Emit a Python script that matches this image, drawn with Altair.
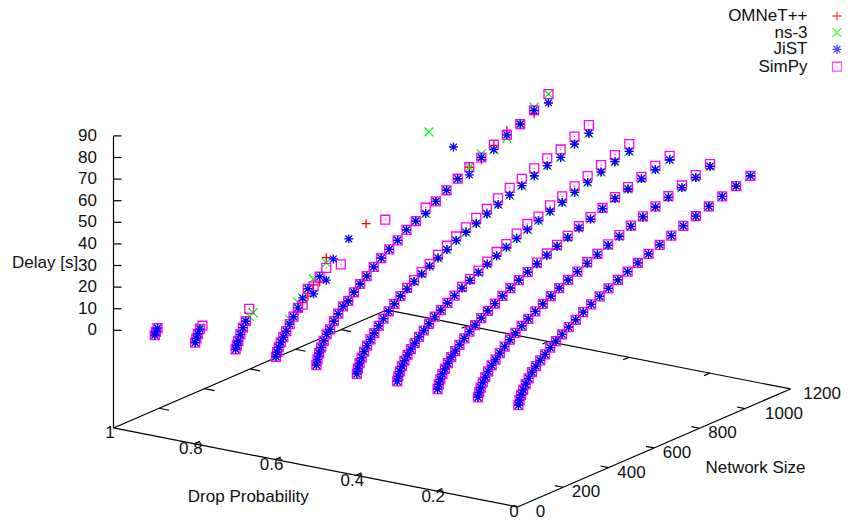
import altair as alt
import pandas as pd

# ---- axis values
DROP_TICKS = [0, 0.2, 0.4, 0.6, 0.8, 1]
DROP_LABELS = ["0", "0.2", "0.4", "0.6", "0.8", "1"]
SIZE_TICKS = [0, 200, 400, 600, 800, 1000, 1200]
SIZE_LABELS = ["0", "200", "400", "600", "800", "1000", "1200"]
DELAY_TICKS = [0, 10, 20, 30, 40, 50, 60, 70, 80, 90]
DELAY_FLOOR = -45.2

# ---- grid sizes: side length k of the network, k*k nodes
SIDES = list(range(2, 33))

# ---- JiST delay for sides 2,3,4,... per drop probability
JIST_00 = [1.7, 3.8, 5.9, 7.9, 10.0, 12.1, 14.3, 16.3, 18.1, 19.9, 22.0, 23.9, 25.8, 27.8, 29.8, 31.8, 33.8, 35.8, 37.8, 39.8, 41.7, 43.7, 45.7, 47.7, 49.6, 51.7, 53.7, 55.7, 57.6, 59.6, 61.5]
JIST_01 = [1.7, 3.8, 5.7, 7.7, 9.6, 11.7, 13.8, 15.7, 17.8, 19.9, 22.0, 24.0, 26.0, 28.0, 30.0, 32.0, 34.0, 36.0, 38.0, 40.0, 41.9, 43.9, 46.0, 48.0, 50.3, 52.2, 54.3, 56.2, 58.0, 59.9, 62.2]
JIST_02 = [1.8, 3.8, 5.8, 7.8, 9.8, 11.8, 13.9, 15.9, 18.0, 20.0, 22.1, 24.0, 26.0, 28.0, 30.0, 32.0, 34.0, 36.0, 38.0, 40.0, 42.0, 44.1, 46.0, 48.2, 50.0, 52.4, 54.6, 56.4, 58.5, 59.9, 61.6]
JIST_03 = [1.8, 3.9, 5.9, 7.9, 9.9, 12.0, 14.0, 16.0, 18.0, 20.0, 22.0, 24.2, 26.0, 28.0, 30.0, 32.0, 34.0, 36.0, 38.0, 40.0, 42.0, 44.0, 46.0, 48.0, 49.9, 51.6, 53.8, 55.8, 57.9, 59.9, 61.8]
JIST_04 = [1.6, 3.8, 6.0, 8.2, 10.4, 12.6, 14.8, 17.0, 19.4, 21.8, 24.2, 26.5, 28.9, 30.9, 32.9, 34.9, 36.9, 39.0, 41.1, 43.5, 45.3, 47.3, 49.6, 51.7, 53.7, 55.7, 57.8, 59.9, 61.0, 64.4, 66.5]
JIST_05 = [2.0, 4.4, 7.0, 9.2, 11.8, 14.2, 15.8, 18.8, 21.4, 23.8, 25.3, 28.2, 30.8, 33.1, 36.0, 38.5, 41.0, 43.5, 46.6, 48.8, 50.3, 53.9, 56.9, 60.0, 59.5, 65.1, 66.2, 70.5, 72.8, 76.3, 77.0]
JIST_06_SIDES = [2, 3, 4, 5, 6, 7, 8, 9, 10, 11, 12, 13, 14, 15, 16, 18, 28]
JIST_06 = [2.2, 4.1, 6.0, 7.9, 9.8, 12.0, 14.6, 17.3, 20.5, 24.1, 27.3, 23.8, 30.5, 27.6, 36.0, 42.2, 63.8]
JIST_07 = [2.0, 3.6, 5.3, 7.9, 10.6, 13.0]
JIST_08 = [1.4, 3.2, 4.9, 6.7]
JIST_09 = [1.2, 2.5, 3.9]
JIST_CURVES = {0.0: JIST_00, 0.1: JIST_01, 0.2: JIST_02, 0.3: JIST_03, 0.4: JIST_04, 0.5: JIST_05}

# ---- SimPy: extra delay compared with JiST, keyed by side
SIMPY_EXTRA = {
    0.1: {32: 1.0, 31: 1.1, 30: 1.0, 29: 0.5, 28: 0.3, 27: 0.3, 26: 0.3, 25: 0.5, 24: 0.5, 23: 0.3, 22: 0.5},
    0.2: {32: 1.8, 31: 1.7, 30: 0.8, 29: 0.9, 28: 0.6, 27: 0.3, 26: 0.9, 25: 0.8, 24: 0.8, 23: 0.6, 22: 0.8, 21: 0.5},
    0.3: {32: 3.4, 31: 3.1, 30: 3.2, 29: 2.9, 28: 2.8, 27: 2.8, 26: 2.8, 25: 1.8, 24: 2.6, 23: 2.3, 22: 1.5, 21: 1.8, 20: 1.2, 19: 0.8, 18: 0.6, 17: 0.5},
    0.4: {32: 3.8, 31: 3.5, 30: 3.7, 29: 3.4, 28: 3.4, 27: 3.2, 26: 3.4, 25: 2.9, 24: 2.3, 23: 2.6, 22: 2.3, 21: 1.8, 20: 1.8, 19: 1.4, 18: 1.0, 17: 0.8, 16: 0.6, 15: 0.4},
    0.5: {32: 4.0, 28: 2.3, 26: 3.5, 22: 2.7},
}
SIMPY_06_SIDES = [2, 3, 4, 5, 6, 7, 8, 9, 10, 11, 12, 13, 14, 15, 17, 22]
SIMPY_06 = [2.2, 4.1, 6.0, 7.9, 9.8, 12.0, 14.6, 17.3, 20.5, 21.0, 27.3, 27.3, 30.5, 33.3, 32.0, 43.8]
SIMPY_07 = [2.0, 3.6, 5.3, 7.9, 10.6, 13.0, 18.0]
SIMPY_08 = [1.4, 3.2, 4.9, 6.7, 7.8]
SIMPY_09 = [1.2, 2.5, 3.9]

# ---- OMNeT++ and ns-3: extra delay where they show apart from JiST
OMNET_EXTRA_05 = {31: -1.5, 29: 2.0, 28: 2.0, 27: -1.0, 26: 3.5}
NS3_EXTRA_05 = {32: 4.0, 31: 1.5, 29: -1.5, 27: 1.7, 26: 3.5}
OMNET_06_SIDES = [2, 3, 4, 5, 6, 7, 8, 9, 10, 11, 12, 13, 14, 15, 20]
OMNET_06 = [2.2, 4.1, 6.0, 7.9, 9.8, 12.0, 14.6, 17.3, 18.9, 22.0, 23.9, 28.0, 28.0, 38.0, 45.8]
NS3_06_SIDES = [2, 3, 4, 5, 6, 7, 8, 9, 10, 11, 12, 13, 15, 26]
NS3_06 = [2.2, 4.1, 6.0, 7.9, 9.8, 12.0, 16.8, 17.3, 23.1, 24.1, 27.3, 30.7, 35.6, 75.7]
NS3_07 = [2.0, 3.6, 5.3, 7.9, 10.6, 13.0, 14.6, 15.4]
NS3_08 = [1.4, 3.2, 4.9, 7.4]

SERIES_NAMES = ["OMNeT++", "ns-3", "JiST", "SimPy"]
SERIES_COLORS = ["#ff0000", "#00ff00", "#0000ff", "#ff00ff"]
SERIES_SHAPES = [
    "M-1,0L1,0M0,-1L0,1",
    "M-1,-1L1,1M-1,1L1,-1",
    "M-1,0L1,0M0,-1L0,1M-0.75,-0.75L0.75,0.75M-0.75,0.75L0.75,-0.75",
    "M-1,-1L1,-1L1,1L-1,1ZM-0.12,0L0.12,0",
]
LEGEND_Y = [16, 32.5, 49.3, 66.7]

FONT = "Liberation Sans"
FONT_SIZE = 17
TEXT_COLOR = "#111111"
MARK_SIZE = 80
MARK_STROKE = 1.3


def sx(p, n):
    return 517.5 - 404 * p + 273 * n / 1200


def sy(p, n, z):
    return 507 - 79 * p - 118 * n / 1200 - 97.7 - 2.16 * z


def rows(p, sides, values):
    return [{"p": p, "n": k * k, "z": v} for k, v in zip(sides, values)]


def series(main, extra_by_p, low):
    out = []
    for p, vals in main.items():
        extra = extra_by_p.get(p, {})
        out += rows(p, SIDES, [v + extra.get(k, 0) for k, v in zip(SIDES, vals)])
    for p, s, v in low:
        out += rows(p, s, v)
    return out


omnet = series(JIST_CURVES, {0.5: OMNET_EXTRA_05},
               [(0.6, OMNET_06_SIDES, OMNET_06), (0.7, SIDES, JIST_07), (0.8, SIDES, JIST_08), (0.9, SIDES, JIST_09)])
ns3 = series(JIST_CURVES, {0.5: NS3_EXTRA_05},
             [(0.6, NS3_06_SIDES, NS3_06), (0.7, SIDES, NS3_07), (0.8, SIDES, NS3_08), (0.9, SIDES, JIST_09)])
jist = series(JIST_CURVES, {},
              [(0.6, JIST_06_SIDES, JIST_06), (0.7, SIDES, JIST_07), (0.8, SIDES, JIST_08), (0.9, SIDES, JIST_09)])
simpy = series(JIST_CURVES, SIMPY_EXTRA,
               [(0.6, SIMPY_06_SIDES, SIMPY_06), (0.7, SIDES, SIMPY_07), (0.8, SIDES, SIMPY_08), (0.9, SIDES, SIMPY_09)])

XS = alt.Scale(domain=[8, 842], range=[0, 834])
YS = alt.Scale(domain=[8, 520], range=[0, 512])


def pts(records):
    d = pd.DataFrame(records)
    d["sx"] = [sx(a, b) for a, b in zip(d.p, d.n)]
    d["sy"] = [sy(a, b, c) for a, b, c in zip(d.p, d.n, d.z)]
    return d


def X(f="sx"):
    return alt.X(f, type="quantitative", scale=XS, axis=None)


def Y(f="sy"):
    return alt.Y(f, type="quantitative", scale=YS, axis=None)


# frame segments (p, n, z) -> (p, n, z)
F = DELAY_FLOOR
segs = [((1, 0, F), (0, 0, F)), ((0, 0, F), (0, 1200, F)), ((0, 1200, F), (1, 1200, F)),
        ((1, 1200, F), (1, 0, F)), ((1, 0, F), (1, 0, 90))]
for n in SIZE_TICKS[1:-1]:
    segs.append(((0, n, F), (0.02, n, F)))
    segs.append(((1, n, F), (0.975, n, F)))
for p in DROP_TICKS[1:-1]:
    segs.append(((p, 0, F), (p, 25, F)))
    segs.append(((p, 1200, F), (p, 1175, F)))
seg_rows = [{"sx": sx(a[0], a[1]), "sy": sy(*a), "ex": sx(b[0], b[1]), "ey": sy(*b)} for a, b in segs]
for z in DELAY_TICKS:
    seg_rows.append({"sx": sx(1, 0), "sy": sy(1, 0, z), "ex": sx(1, 0) + 8, "ey": sy(1, 0, z)})

frame = alt.Chart(pd.DataFrame(seg_rows)).mark_rule(color="#000000", strokeWidth=1.2).encode(
    x=X(), y=Y(), x2=alt.X2("ex"), y2=alt.Y2("ey"))

layers = [frame]

# OMNeT++, ns-3, SimPy, then JiST on top, as the stars show over the squares
for i in [0, 1, 3, 2]:
    recs = [omnet, ns3, jist, simpy][i]
    layers.append(alt.Chart(pts(recs)).mark_point(
        shape=SERIES_SHAPES[i], filled=False, stroke=SERIES_COLORS[i], strokeWidth=MARK_STROKE,
        size=MARK_SIZE, opacity=1
    ).encode(x=X(), y=Y()))


def text_layer(items, align="center"):
    return alt.Chart(pd.DataFrame(items, columns=["sx", "sy", "t"])).mark_text(
        font=FONT, fontSize=FONT_SIZE, color=TEXT_COLOR, align=align, baseline="middle"
    ).encode(x=X(), y=Y(), text="t:N")


drop_items = [(sx(p, 0) - 3.5, sy(p, 0, F) + 5.5, l) for p, l in zip(DROP_TICKS, DROP_LABELS)]
size_items = [(sx(0, n) + 23, sy(0, n, F) + 5, l) for n, l in zip(SIZE_TICKS, SIZE_LABELS) if n < 1000]
size_items.append((sx(0, 1000) + 39, sy(0, 1000, F) + 5, "1000"))
size_right = [(841, sy(0, 1200, F) + 5, "1200")]
delay_items = [(97, sy(1, 0, z), str(z)) for z in DELAY_TICKS]

layers.append(text_layer(drop_items))
layers.append(text_layer(size_items))
layers.append(text_layer(size_right, "right"))
layers.append(text_layer(delay_items, "right"))
layers.append(text_layer([(248.3, 497.3, "Drop Probability"), (755.5, 468.3, "Network Size")]))
layers.append(text_layer([(12, 263.3, "Delay [s]")], "left"))
layers.append(text_layer([(807.5, y, name) for y, name in zip(LEGEND_Y, SERIES_NAMES)], "right"))

for y, color, shape in zip(LEGEND_Y, SERIES_COLORS, SERIES_SHAPES):
    layers.append(alt.Chart(pd.DataFrame({"sx": [837], "sy": [y]})).mark_point(
        shape=shape, filled=False, stroke=color, strokeWidth=MARK_STROKE, size=MARK_SIZE
    ).encode(x=X(), y=Y()))

chart = alt.layer(*layers).properties(
    width=834, height=512, padding=0, autosize=alt.AutoSizeParams(type="none"), background="white"
).configure_view(stroke=None)

chart.save("out.html", embed_options={"renderer": "svg", "actions": False})
